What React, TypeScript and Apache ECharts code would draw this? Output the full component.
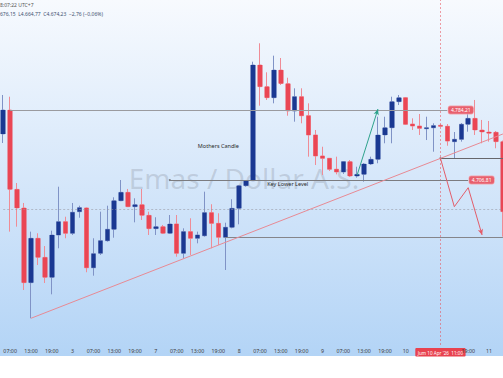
import React, { useEffect, useRef } from "react";
import * as echarts from "echarts";

// 2-hour candles, Apr 2 05:00 -> Apr 11 05:00 (UTC+7)
const categories = [
  "05:00","07:00","09:00","11:00","13:00","15:00","17:00","19:00","21:00","23:00",
  "3","03:00","05:00","07:00","09:00","11:00","13:00","15:00","17:00","19:00","21:00","23:00",
  "7","03:00","05:00","07:00","09:00","11:00","13:00","15:00","17:00","19:00","21:00","23:00",
  "8","03:00","05:00","07:00","09:00","11:00","13:00","15:00","17:00","19:00","21:00","23:00",
  "9","03:00","05:00","07:00","09:00","11:00","13:00","15:00","17:00","19:00","21:00","23:00",
  "10","03:00","05:00","07:00","09:00","11:00","13:00","15:00","17:00","19:00","21:00","23:00",
  "11","03:00","05:00",
];

// [open, close, low, high]
const candles: number[][] = [
  [4757.7, 4784.2, 4747.7, 4800.8],
  [4784.2, 4696.5, 4649.7, 4798.9],
  [4696.5, 4675.9, 4655.2, 4703.5],
  [4675.9, 4593.3, 4585.2, 4681.4],
  [4593.3, 4642.4, 4553.9, 4649.7],
  [4642.4, 4621.3, 4612.8, 4647.9],
  [4621.3, 4599.2, 4592.9, 4633.8],
  [4599.2, 4646.0, 4580.4, 4650.8],
  [4646.0, 4660.7, 4631.3, 4699.4],
  [4660.7, 4647.9, 4642.4, 4666.2],
  [4647.9, 4671.1, 4646.0, 4681.4],
  [4671.8, 4676.2, 4665.1, 4678.4],
  [4675.9, 4609.8, 4604.8, 4676.5],
  [4609.8, 4625.3, 4601.0, 4642.4],
  [4625.8, 4639.7, 4623.9, 4671.8],
  [4639.7, 4652.3, 4638.6, 4678.4],
  [4652.3, 4683.9, 4643.0, 4687.7],
  [4683.9, 4693.2, 4683.5, 4706.8],
  [4693.2, 4677.3, 4677.0, 4696.9],
  [4677.3, 4679.5, 4660.0, 4686.6],
  [4679.5, 4667.8, 4662.6, 4696.9],
  [4667.8, 4653.0, 4646.0, 4671.8],
  [4653.0, 4655.2, 4646.0, 4665.6],
  [4655.2, 4647.9, 4647.1, 4657.1],
  [4647.9, 4658.2, 4647.1, 4668.1],
  [4658.2, 4625.8, 4622.0, 4668.1],
  [4625.8, 4649.7, 4620.2, 4653.4],
  [4649.7, 4642.4, 4623.9, 4664.5],
  [4642.4, 4646.0, 4636.8, 4649.7],
  [4645.2, 4670.7, 4644.1, 4693.9],
  [4670.7, 4658.9, 4631.3, 4680.0],
  [4658.9, 4643.5, 4634.9, 4670.0],
  [4643.5, 4654.5, 4607.3, 4659.6],
  [4654.5, 4675.5, 4653.4, 4685.5],
  [4675.5, 4700.5, 4657.8, 4701.3],
  [4700.5, 4706.0, 4699.4, 4706.8],
  [4706.0, 4834.0, 4705.7, 4837.6],
  [4834.0, 4810.0, 4789.0, 4858.0],
  [4810.0, 4797.8, 4795.3, 4825.9],
  [4797.8, 4828.4, 4791.6, 4844.3],
  [4828.4, 4813.5, 4811.9, 4841.7],
  [4813.3, 4783.1, 4777.9, 4819.9],
  [4783.1, 4798.9, 4771.3, 4808.2],
  [4798.9, 4777.9, 4769.5, 4808.2],
  [4777.9, 4756.6, 4732.6, 4791.6],
  [4756.6, 4733.4, 4723.4, 4762.1],
  [4733.4, 4730.8, 4712.3, 4743.6],
  [4730.8, 4718.7, 4716.8, 4731.1],
  [4718.7, 4715.7, 4713.1, 4732.6],
  [4715.7, 4727.1, 4713.5, 4727.8],
  [4727.1, 4711.2, 4710.1, 4728.9],
  [4711.2, 4713.1, 4709.4, 4721.5],
  [4713.1, 4724.5, 4704.9, 4725.6],
  [4724.5, 4729.7, 4723.4, 4732.6],
  [4729.7, 4756.6, 4725.3, 4776.8],
  [4756.6, 4764.6, 4747.4, 4776.8],
  [4764.6, 4793.4, 4747.4, 4798.9],
  [4793.4, 4797.8, 4789.7, 4800.8],
  [4797.8, 4768.4, 4767.6, 4798.6],
  [4768.7, 4766.5, 4762.1, 4775.0],
  [4766.5, 4764.0, 4756.6, 4779.8],
  [4763.5, 4764.6, 4751.0, 4776.8],
  [4764.6, 4766.9, 4738.1, 4769.5],
  [4767.3, 4766.2, 4765.4, 4768.2],
  [4766.2, 4749.9, 4744.7, 4768.7],
  [4749.2, 4751.8, 4730.8, 4759.9],
  [4751.8, 4768.4, 4749.2, 4769.8],
  [4768.4, 4775.0, 4760.2, 4785.3],
  [4775.0, 4762.1, 4756.6, 4795.3],
  [4762.1, 4759.9, 4747.4, 4773.2],
  [4759.9, 4758.5, 4749.2, 4772.1],
  [4759.6, 4749.2, 4741.9, 4761.0],
  [4749.2, 4671.8, 4644.1, 4750.4],
];

const yMin = 4524.37;
const yMax = 4905.84;

const levelHigh = 4784.21;
const levelHighLabel = "4.784,21";
const levelKey = 4706.81;
const levelKeyLabel = "4.706,81";
const levelSupport = 4643.8;
const levelBreak = 4730.8;
const crosshairPrice = 4674.4;
const crosshairIndex = 63;
const crosshairLabel = "Jum 10 Apr '26  11:00";

const trendLine = [[4, 4553.9], [72, 4757.7]];
const greenArrow = [[51, 4712.3], [54, 4785.3]];
const projection = [[63, 4730.8], [64.85, 4677.3], [66.93, 4698.3], [68.8, 4646.0]];

const notes = [
  { name: "Mothers Candle", coord: [30.6, 4744.4] },
  { name: "Key Lower Level", coord: [40.7, 4702.1] },
];

const headerTime = "8:07:22 UTC+7";
const headerOhlc = "676,15  L4.664,77  C4.674,23  −2,76 (−0,06%)";
const watermark = "Emas / Dollar A.S.";

const RED = "#ea4654";
const BLUE = "#1a3892";
const RED_WICK = "#ef8c96";
const BLUE_WICK = "#8093c6";

export default function App() {
  const ref = useRef<HTMLDivElement>(null);

  useEffect(() => {
    document.body.style.margin = "0";
    const chart = echarts.init(ref.current!, undefined, { renderer: "svg" });

    const bodies = candles.map(([o, c]) => [o, c, Math.min(o, c), Math.max(o, c)]);

    const endLabel = (text: string) => ({
      show: true,
      position: "end",
      distance: 1,
      formatter: text,
      color: "#fff",
      fontSize: 5,
      fontFamily: "Noto Sans",
      backgroundColor: "#e8606d",
      borderColor: "#f4a5ad",
      borderWidth: 0.6,
      borderRadius: 2,
      padding: [1.5, 2.5, 1.2, 2.5],
    });

    const seg = (a: number[], b: number[], color: string, width: number, arrow = false, extra: any = {}) => [
      { coord: a, symbol: extra.startSymbol || "none", symbolSize: extra.startSize || 0 },
      {
        coord: b,
        symbol: arrow ? "arrow" : "none",
        symbolSize: arrow ? [4, 6] : 0,
        lineStyle: { color, width, type: extra.type || "solid" },
        itemStyle: { color: extra.symbolColor || color },
        label: extra.label || { show: false },
      },
    ];

    const option: any = {
      animation: false,
      backgroundColor: "#ffffff",
      grid: { left: 3.2, right: 0.1, top: 0, bottom: 33, containLabel: false },
      xAxis: {
        type: "category",
        data: categories,
        boundaryGap: false,
        axisLine: { show: false },
        axisTick: { show: false },
        splitLine: { show: false },
        axisLabel: {
          show: true,
          margin: 3,
          color: "#3c3c3c",
          fontSize: 5.3,
          fontFamily: "Noto Sans",
          hideOverlap: false,
          interval: (idx: number) =>
            idx === crosshairIndex ||
            (idx % 3 === 1 && idx !== crosshairIndex - 2 && idx !== crosshairIndex + 1),
          formatter: (val: string, idx: number) =>
            idx === crosshairIndex ? `{hl|${crosshairLabel}}` : val,
          rich: {
            hl: {
              color: "#fff",
              fontSize: 4.6,
              fontFamily: "Noto Sans",
              backgroundColor: "#e8424f",
              padding: [2, 2.5, 1.5, 2.5],
              borderRadius: 1,
            },
          },
        },
      },
      yAxis: {
        type: "value",
        min: yMin,
        max: yMax,
        show: false,
        splitLine: { show: false },
      },
      graphic: [
        {
          type: "rect",
          z: -10,
          silent: true,
          shape: { x: 0, y: 0, width: 503, height: 356 },
          style: {
            fill: new echarts.graphic.LinearGradient(0, 0, 0, 1, [
              { offset: 0, color: "#f7fafe" },
              { offset: 0.5, color: "#d6e7fa" },
              { offset: 1, color: "#b3d4f6" },
            ]),
          },
        },
        {
          type: "text",
          z: -5,
          silent: true,
          x: 244,
          y: 178,
          style: {
            text: watermark,
            align: "center",
            verticalAlign: "middle",
            fontSize: 28,
            fontFamily: "Noto Sans",
            fill: "rgba(120,126,138,0.26)",
          },
        },
        {
          type: "text",
          silent: true,
          x: 0,
          y: 4.7,
          style: { text: headerTime, verticalAlign: "middle", fontSize: 5, fontFamily: "Noto Sans", fill: "#555" },
        },
        {
          type: "text",
          silent: true,
          x: 0,
          y: 14.3,
          style: { text: headerOhlc, verticalAlign: "middle", fontSize: 5, fontFamily: "Noto Sans", fill: "#3f5170" },
        },
      ],
      series: [
        {
          type: "candlestick",
          name: "wicks",
          data: candles,
          barWidth: 4,
          z: 3,
          itemStyle: {
            color: BLUE_WICK,
            color0: RED_WICK,
            borderColor: BLUE_WICK,
            borderColor0: RED_WICK,
            borderWidth: 1,
          },
        },
        {
          type: "candlestick",
          name: "bodies",
          data: bodies,
          barWidth: 5,
          z: 4,
          itemStyle: {
            color: BLUE,
            color0: RED,
            borderColor: BLUE,
            borderColor0: RED,
            borderWidth: 0,
          },
          markLine: {
            silent: true,
            animation: false,
            symbol: ["none", "none"],
            label: { show: false },
            data: [
              seg([crosshairIndex, yMin], [crosshairIndex, yMax], "rgba(232,80,90,0.55)", 1, false, { type: [2, 2] }),
              seg([-0.5, crosshairPrice], [72.2, crosshairPrice], "rgba(150,150,160,0.55)", 1, false, { type: [2, 2] }),
              seg([1, levelHigh], [64, levelHigh], "#9a9a9e", 1.2, false, { label: endLabel(levelHighLabel) }),
              seg([24, levelKey], [67, levelKey], "#7c7c80", 1, false, {
                startSymbol: "circle",
                startSize: 2,
                symbolColor: "#222",
                label: endLabel(levelKeyLabel),
              }),
              seg([31.7, levelSupport], [72.2, levelSupport], "#85858a", 1, false),
              seg([crosshairIndex, levelBreak], [72.2, levelBreak], "#66666b", 1, false, {
                startSymbol: "circle",
                startSize: 2,
                symbolColor: "#222",
              }),
              seg(trendLine[0], trendLine[1], "#e88a94", 1, false),
              seg(greenArrow[0], greenArrow[1], "#2fa38d", 1, true),
              seg(projection[0], projection[1], "#e35d6a", 1, false),
              seg(projection[1], projection[2], "#e35d6a", 1, false),
              seg(projection[2], projection[3], "#e35d6a", 1, true),
            ],
          },
          markPoint: {
            silent: true,
            animation: false,
            symbol: "circle",
            symbolSize: 0,
            label: {
              show: true,
              position: "inside",
              color: "#2a2a2a",
              fontSize: 5.5,
              fontFamily: "Noto Sans",
              formatter: (p: any) => p.name,
            },
            data: notes.map((n) => ({ name: n.name, coord: n.coord })),
          },
        },
      ],
    };

    chart.setOption(option);
    return () => chart.dispose();
  }, []);

  return <div ref={ref} style={{ width: 503, height: 378 }} />;
}
